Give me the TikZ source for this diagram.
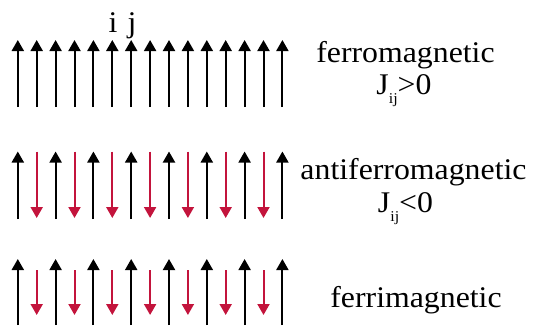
\documentclass[tikz,border=0pt]{standalone}
\usepackage{fontspec}
\setmainfont{Liberation Serif}
\usetikzlibrary{arrows.meta}
\definecolor{spinred}{RGB}{195,20,60}
\tikzset{
  spin/.style={line width=2pt, -{Triangle[width=12pt,length=11pt]}},
  upspin/.style={spin, black},
  downspin/.style={spin, spinred},
  lbl/.style={inner sep=0pt, anchor=base, font=\fontsize{30}{34}\selectfont, xscale=1.06},
}
\newcommand{\subij}{\raisebox{-0.3em}{\fontsize{15}{15}\selectfont ij}}
\begin{document}
\begin{tikzpicture}[x=1pt,y=-1pt]
\useasboundingbox (0,0) rectangle (533,325);
% row 1: ferromagnetic
\foreach \k in {0,...,14}{
  \draw[upspin] ({17.8+18.9*\k},107) -- ({17.8+18.9*\k},40);
}
\node[lbl] (i) at (113,32) {i};
\node[lbl] (j) at (132,32) {j};
% row 2: antiferromagnetic
\foreach \k in {0,2,...,14}{
  \draw[upspin] ({17.8+18.9*\k},219) -- ({17.8+18.9*\k},151.5);
}
\foreach \k in {1,3,...,13}{
  \draw[downspin] ({17.8+18.9*\k},151.5) -- ({17.8+18.9*\k},218);
}
% row 3: ferrimagnetic
\foreach \k in {0,2,...,14}{
  \draw[upspin] ({17.8+18.9*\k},325) -- ({17.8+18.9*\k},259);
}
\foreach \k in {1,3,...,13}{
  \draw[downspin] ({17.8+18.9*\k},270) -- ({17.8+18.9*\k},315);
}
% labels
\node[lbl] (ferro) at (405.5,62) {ferromagnetic};
\node[lbl] (jpos) at (404,94) {J\subij>0};
\node[lbl] (antiferro) at (413.5,179) {antiferromagnetic};
\node[lbl] (jneg) at (405.5,212) {J\subij<0};
\node[lbl] (ferri) at (416,307) {ferrimagnetic};
\end{tikzpicture}
\end{document}
